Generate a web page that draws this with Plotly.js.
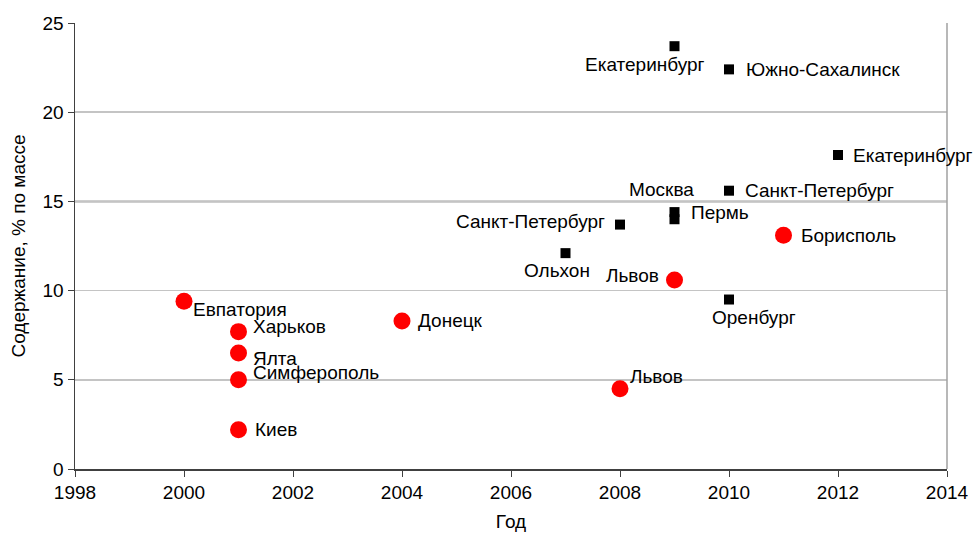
<!DOCTYPE html>
<html>
<head>
<meta charset="utf-8">
<script src="https://cdn.plot.ly/plotly-3.0.1.min.js"></script>
<style>html,body{margin:0;padding:0;background:#fff}#chart{width:973px;height:538px}</style>
</head>
<body>
<div id="chart"></div>
<script>
// Red circles (Ukraine)
const redYears = [2000, 2001, 2001, 2001, 2001, 2004, 2008, 2009, 2011];
const redValues = [9.4, 7.7, 6.5, 5.0, 2.2, 8.3, 4.5, 10.6, 13.1];
const redLabels = ["Евпатория", "Харьков", "Ялта", "Симферополь", "Киев", "Донецк", "Львов", "Львов", "Борисполь"];

// Black squares (Russia)
const blackYears = [2009, 2010, 2012, 2010, 2009, 2009, 2008, 2007, 2010];
const blackValues = [23.7, 22.4, 17.6, 15.6, 14.4, 14.0, 13.7, 12.1, 9.5];
const blackLabels = ["Екатеринбург", "Южно-Сахалинск", "Екатеринбург", "Санкт-Петербург", "Москва", "Пермь", "Санкт-Петербург", "Ольхон", "Оренбург"];

const xTicks = [1998, 2000, 2002, 2004, 2006, 2008, 2010, 2012, 2014];
const yTicks = [0, 5, 10, 15, 20, 25];
const darkGrid = [5, 15];

// label placement (style only): [xanchor, xshift px, yshift px]
const redLabelPlace = [["left", 8, -8], ["left", 13, 5], ["left", 13, -5], ["left", 13, 7], ["left", 15, 0],
                       ["left", 15, 0], ["left", 9, 12], ["right", -15, 4], ["left", 16, 0]];
const blackLabelPlace = [["center", -30, -18], ["left", 16, 0], ["left", 14, 0], ["left", 15, 0], ["center", -13, 23],
                         ["left", 15, 7], ["right", -14, 3], ["center", -9, -17], ["center", 25, -18]];

const font = {family: "Liberation Sans, Arial, sans-serif", size: 19, color: "#000"};

const traces = [
  {
    type: "scatter", mode: "markers",
    x: redYears, y: redValues,
    marker: {symbol: "circle", size: 17, color: "#ff0000"},
    cliponaxis: false, showlegend: false, hoverinfo: "x+y"
  },
  {
    type: "scatter", mode: "markers",
    x: blackYears, y: blackValues,
    marker: {symbol: "square", size: 10, color: "#000"},
    cliponaxis: false, showlegend: false, hoverinfo: "x+y"
  }
];

function makeAnn(xs, ys, labels, place) {
  return labels.map((t, i) => ({
    x: xs[i], y: ys[i], xref: "x", yref: "y", text: t, showarrow: false,
    xanchor: place[i][0], yanchor: "middle", xshift: place[i][1], yshift: place[i][2],
    font: font, borderpad: 0
  }));
}
const annotations = makeAnn(redYears, redValues, redLabels, redLabelPlace)
  .concat(makeAnn(blackYears, blackValues, blackLabels, blackLabelPlace));

const shapes = darkGrid.map(v => ({
  type: "line", xref: "paper", x0: 0, x1: 1, yref: "y", y0: v, y1: v,
  line: {color: "#3c3c3c", width: 1.5}, layer: "below"
}));
shapes.push({type: "line", xref: "paper", x0: 1, x1: 1, yref: "paper", y0: 0, y1: 1,
  line: {color: "#a0a0a0", width: 1.5}});

const layout = {
  width: 973, height: 538,
  margin: {l: 75, r: 26, t: 23, b: 69},
  paper_bgcolor: "#fff", plot_bgcolor: "#fff",
  font: font,
  xaxis: {
    range: [1998, 2014], tickvals: xTicks, ticktext: xTicks.map(String),
    showgrid: false, zeroline: false,
    showline: true, linecolor: "#404040", linewidth: 1.5,
    ticks: "outside", ticklen: 6, tickcolor: "#404040",
    tickfont: font,
    title: {text: "Год", font: font, standoff: 12}
  },
  yaxis: {
    range: [0, 25], tickvals: yTicks, ticktext: yTicks.map(String),
    showgrid: true, gridcolor: "#c4c4c4", gridwidth: 1.5, zeroline: false,
    showline: true, linecolor: "#404040", linewidth: 1.5,
    ticks: "outside", ticklen: 6, tickcolor: "#404040",
    tickfont: font,
    title: {text: "Содержание, % по массе", font: font, standoff: 12}
  },
  shapes: shapes,
  annotations: annotations
};

Plotly.newPlot("chart", traces, layout, {displayModeBar: false, staticPlot: true});
</script>
</body>
</html>
